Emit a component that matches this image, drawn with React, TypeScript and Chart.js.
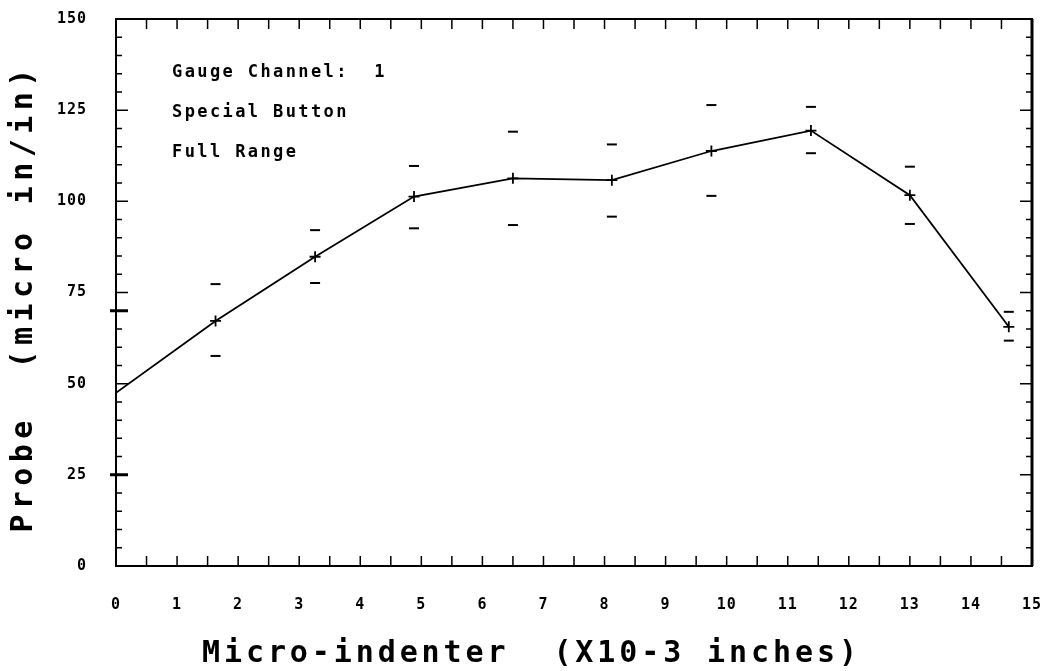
import React, { useEffect, useRef } from "react";
import { Chart, registerables } from "chart.js";

Chart.register(...registerables);

// ---- data ----
const xPositions = [0, 1.63, 3.26, 4.88, 6.5, 8.12, 9.75, 11.38, 13.0, 14.62];
const probeMean = [47.5, 67.2, 84.8, 101.3, 106.3, 105.8, 113.8, 119.4, 101.7, 65.6];
const probeUpper = [null, 77.3, 92.1, 109.7, 119.1, 115.6, 126.4, 125.9, 109.5, 69.7];
const probeLower = [null, 57.6, 77.6, 92.6, 93.5, 95.8, 101.5, 113.2, 93.8, 61.8];
const markerShown = [false, true, true, true, true, true, true, true, true, true];

const xTickValues = [0, 1, 2, 3, 4, 5, 6, 7, 8, 9, 10, 11, 12, 13, 14, 15];
const yTickValues = [0, 25, 50, 75, 100, 125, 150];
const annotationLines = ["Gauge Channel:  1", "Special Button", "Full Range"];
const xTitle = "Micro-indenter  (X10-3 inches)";
const yTitle = "Probe  (micro in/in)";

const MONO = "'DejaVu Sans Mono', 'Liberation Mono', monospace";

const decorPlugin = {
  id: "plotterDecor",
  afterDraw(chart: any) {
    const ctx: CanvasRenderingContext2D = chart.ctx;
    const { left, right, top, bottom } = chart.chartArea;
    const xs = chart.scales.x;
    const ys = chart.scales.y;
    ctx.save();
    ctx.strokeStyle = "#000";
    ctx.fillStyle = "#000";

    // frame
    ctx.lineWidth = 2;
    ctx.strokeRect(left, top, right - left, bottom - top);
    ctx.lineWidth = 3;
    ctx.beginPath();
    ctx.moveTo(right, top);
    ctx.lineTo(right, bottom);
    ctx.stroke();

    // x ticks every 0.5 (bottom up, top down)
    ctx.lineWidth = 1.5;
    ctx.beginPath();
    for (let v = 0.5; v < 15; v += 0.5) {
      const px = xs.getPixelForValue(v);
      ctx.moveTo(px, bottom);
      ctx.lineTo(px, bottom - 10);
      ctx.moveTo(px, top);
      ctx.lineTo(px, top + 10);
    }
    ctx.stroke();

    // y ticks every 5 on both sides
    ctx.beginPath();
    for (let v = 5; v < 150; v += 5) {
      const py = ys.getPixelForValue(v);
      const major = v % 25 === 0;
      const len = major ? 12 : 6;
      ctx.moveTo(left, py);
      ctx.lineTo(left + len, py);
      ctx.moveTo(right, py);
      ctx.lineTo(right - len, py);
    }
    ctx.stroke();

    // outward marks on left axis
    ctx.lineWidth = 3;
    ctx.beginPath();
    [25, 70].forEach((v) => {
      const py = ys.getPixelForValue(v);
      ctx.moveTo(left - 6, py);
      ctx.lineTo(left + 12, py);
    });
    ctx.stroke();

    // tick labels
    ctx.font = `bold 15px ${MONO}`;
    (ctx as any).letterSpacing = "1px";
    ctx.textBaseline = "middle";
    ctx.textAlign = "center";
    xTickValues.forEach((v) => {
      ctx.fillText(String(v), xs.getPixelForValue(v), 605);
    });
    ctx.textAlign = "right";
    yTickValues.forEach((v) => {
      ctx.fillText(String(v), 87, ys.getPixelForValue(v));
    });

    // annotation text
    ctx.font = `bold 17px ${MONO}`;
    (ctx as any).letterSpacing = "2.4px";
    ctx.textAlign = "left";
    ctx.textBaseline = "middle";
    annotationLines.forEach((t, i) => {
      ctx.fillText(t, 172, 73 + i * 40);
    });

    // axis titles
    ctx.font = `bold 30px ${MONO}`;
    (ctx as any).letterSpacing = "3.9px";
    ctx.textAlign = "left";
    ctx.textBaseline = "middle";
    ctx.fillText(xTitle, 202, 654);

    (ctx as any).letterSpacing = "5.4px";
    ctx.textAlign = "center";
    ctx.save();
    ctx.translate(24, 298);
    ctx.rotate(-Math.PI / 2);
    ctx.fillText(yTitle, 0, 0);
    ctx.restore();

    ctx.restore();
  },
};

export default function App() {
  const canvasRef = useRef<HTMLCanvasElement | null>(null);

  useEffect(() => {
    document.body.style.margin = "0";
    document.body.style.overflow = "hidden";
    document.body.style.background = "#fff";
    const canvas = canvasRef.current;
    if (!canvas) return;

    const meanPoints = xPositions.map((x, i) => ({ x, y: probeMean[i] }));
    const upperPoints = xPositions
      .map((x, i) => ({ x, y: probeUpper[i] }))
      .filter((p) => p.y !== null);
    const lowerPoints = xPositions
      .map((x, i) => ({ x, y: probeLower[i] }))
      .filter((p) => p.y !== null);

    const chart = new Chart(canvas, {
      type: "scatter",
      data: {
        datasets: [
          {
            label: "Probe",
            data: meanPoints,
            showLine: true,
            borderColor: "#000",
            borderWidth: 1.8,
            tension: 0,
            pointStyle: "cross",
            pointRadius: markerShown.map((m) => (m ? 5.5 : 0)),
            pointBorderColor: "#000",
            pointBorderWidth: 1.8,
            pointBackgroundColor: "#000",
          },
          {
            label: "Upper",
            data: upperPoints,
            showLine: false,
            pointStyle: "line",
            pointRadius: 5,
            pointBorderColor: "#000",
            pointBorderWidth: 2,
          },
          {
            label: "Lower",
            data: lowerPoints,
            showLine: false,
            pointStyle: "line",
            pointRadius: 5,
            pointBorderColor: "#000",
            pointBorderWidth: 2,
          },
        ],
      },
      options: {
        responsive: false,
        animation: false,
        layout: { padding: { left: 0, top: 19, right: 14, bottom: 0 } },
        plugins: {
          legend: { display: false },
          tooltip: { enabled: false },
        },
        scales: {
          x: {
            type: "linear",
            min: 0,
            max: 15,
            grid: { display: false, drawTicks: false },
            border: { display: false },
            ticks: { display: false },
            afterFit: (scale: any) => {
              scale.height = 105;
            },
          },
          y: {
            type: "linear",
            min: 0,
            max: 150,
            grid: { display: false, drawTicks: false },
            border: { display: false },
            ticks: { display: false },
            afterFit: (scale: any) => {
              scale.width = 116;
            },
          },
        },
      },
      plugins: [decorPlugin],
    } as any);

    return () => chart.destroy();
  }, []);

  return (
    <canvas
      ref={canvasRef}
      width={1046}
      height={671}
      style={{ display: "block", width: 1046, height: 671 }}
    />
  );
}
